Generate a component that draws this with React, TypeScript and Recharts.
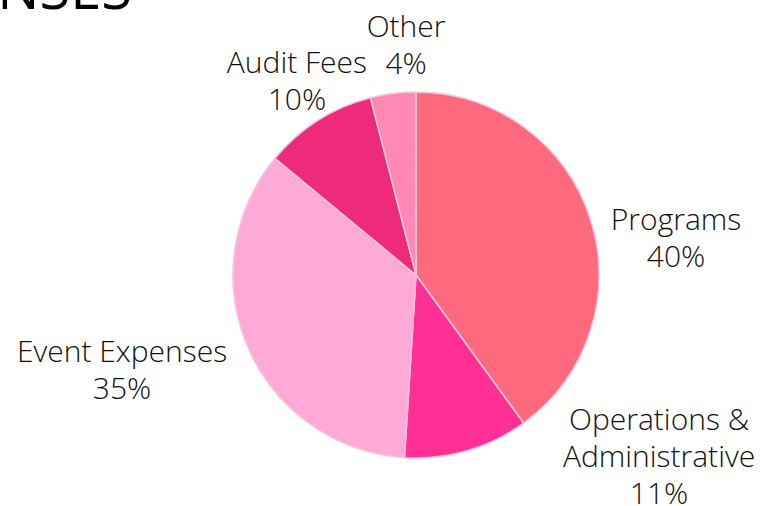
import React from "react";
import { PieChart, Pie, Cell } from "recharts";

const categories = ["Programs", "Operations & Administrative", "Event Expenses", "Audit Fees", "Other"];
const values = [40, 11, 35, 10, 4];
const labelLines = [["Programs", "40%"], ["Operations &", "Administrative", "11%"], ["Event Expenses", "35%"], ["Audit Fees", "10%"], ["Other", "4%"]];
const colors = ["#FF697E", "#FF2F94", "#FFA9D6", "#EE2B7B", "#FF88B5"];
const title = "EXPENSES";

const data = categories.map((name, i) => ({ name, value: values[i], lines: labelLines[i] }));

// label nudges relative to the slice's outer mid-point (styling only)
const NUDGE: Record<string, [number, number]> = {
  "Programs": [86, 18],
  "Operations & Administrative": [192, 4],
  "Event Expenses": [-126, 21],
  "Audit Fees": [-21, -41],
  "Other": [13, -50],
};

const FONT = "'Open Sans', Lato, sans-serif";
const LINE_H = 37;

const renderLabel = (props: any) => {
  const { cx, cy, midAngle, outerRadius, payload, name } = props;
  const rad = (Math.PI / 180) * midAngle;
  const px = cx + outerRadius * Math.cos(rad);
  const py = cy - outerRadius * Math.sin(rad);
  const key = name ?? payload?.name;
  const [dx, dy] = NUDGE[key] || [0, 0];
  const lines: string[] = payload?.lines || [key];
  const x = px + dx;
  const yc = py + dy;
  const y0 = yc - ((lines.length - 1) * LINE_H) / 2;
  return (
    <text x={x} y={y0} textAnchor="middle" dominantBaseline="central" fill="#111" fontSize={30} fontFamily={FONT} fontWeight={300}>
      {lines.map((l, i) => (
        <tspan key={i} x={x} y={y0 + i * LINE_H}>{l}</tspan>
      ))}
    </text>
  );
};

export default function App() {
  return (
    <div style={{ position: "fixed", left: 0, top: 0, width: 761, height: 506, background: "#fff" }}>
      <svg width={761} height={506} style={{ position: "absolute", left: 0, top: 0 }}>
        <text x={132} y={9} textAnchor="end" fontSize={56} fontWeight={500} fontFamily={FONT} fill="#000">{title}</text>
      </svg>
      <div style={{ position: "absolute", left: 0, top: 0 }}>
        <PieChart width={761} height={506} margin={{ top: 0, right: 0, bottom: 0, left: 0 }}>
          <Pie
            data={data}
            dataKey="value"
            nameKey="name"
            cx={416}
            cy={275}
            outerRadius={183}
            startAngle={90}
            endAngle={-270}
            stroke="#F7C6DA"
            strokeWidth={1.5}
            label={renderLabel}
            labelLine={false}
            isAnimationActive={false}
          >
            {data.map((d, i) => (
              <Cell key={d.name} fill={colors[i]} />
            ))}
          </Pie>
        </PieChart>
      </div>
    </div>
  );
}
